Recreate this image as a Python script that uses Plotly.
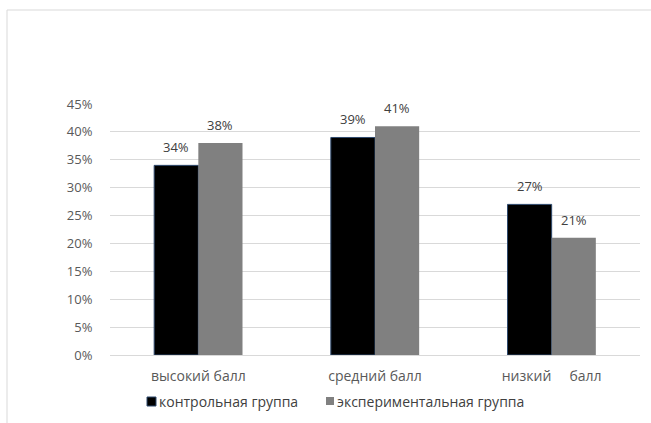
import plotly.graph_objects as go

# Survey results by score level
categories = ["высокий балл", "средний балл", "низкий     балл"]
control_group = [0.34, 0.39, 0.27]
experimental_group = [0.38, 0.41, 0.21]
series_names = ["контрольная группа", "экспериментальная группа"]
tick_values = [0, 0.05, 0.10, 0.15, 0.20, 0.25, 0.30, 0.35, 0.40, 0.45]

FONT = "Open Sans"
W, H = 651, 423
L, R, T, B = 110, 11, 104, 68
PW, PH = W - L - R, H - T - B
BAR_PX = 44  # width of one bar in pixels, used to centre value labels


def px_x(x):
    return (x - L) / PW


def px_y(y):
    return (H - B - y) / PH


fig = go.Figure()
fig.add_trace(go.Bar(
    x=categories, y=control_group, name=series_names[0],
    marker=dict(color="#000000", line=dict(color="#2f4a6e", width=1)),
))
fig.add_trace(go.Bar(
    x=categories, y=experimental_group, name=series_names[1],
    marker=dict(color="#808080", line=dict(width=0)),
))

annotations = []
# value labels above each bar
for values, shift in ((control_group, -BAR_PX / 2), (experimental_group, BAR_PX / 2)):
    for cat, v in zip(categories, values):
        annotations.append(dict(
            text=f"{v:.0%}", x=cat, y=v, xref="x", yref="y",
            xshift=shift, yshift=7, xanchor="center", yanchor="bottom",
            showarrow=False, font=dict(family=FONT, size=13, color="#404040"),
        ))

shapes = [
    # outer frame of the chart area (top and left edges)
    dict(type="line", xref="paper", yref="paper", x0=px_x(7), x1=px_x(651),
         y0=px_y(10), y1=px_y(10), line=dict(color="#d9d9d9", width=1)),
    dict(type="line", xref="paper", yref="paper", x0=px_x(7), x1=px_x(7),
         y0=px_y(10), y1=px_y(423), line=dict(color="#d9d9d9", width=1)),
    # legend swatches
    dict(type="rect", xref="paper", yref="paper", x0=px_x(147), x1=px_x(156),
         y0=px_y(397), y1=px_y(406), fillcolor="#000000",
         line=dict(color="#2f4a6e", width=1)),
    dict(type="rect", xref="paper", yref="paper", x0=px_x(326), x1=px_x(334),
         y0=px_y(397), y1=px_y(405), fillcolor="#808080", line=dict(width=0)),
]

annotations += [
    dict(text=series_names[0], xref="paper", yref="paper", x=px_x(157), y=px_y(401),
         xanchor="left", yanchor="middle", showarrow=False,
         font=dict(family=FONT, size=14, color="#404040")),
    dict(text=series_names[1], xref="paper", yref="paper", x=px_x(335), y=px_y(401),
         xanchor="left", yanchor="middle", showarrow=False,
         font=dict(family=FONT, size=14, color="#404040")),
]

fig.update_layout(
    width=W, height=H,
    margin=dict(l=L, r=R, t=T, b=B),
    paper_bgcolor="white", plot_bgcolor="white",
    barmode="group", bargap=0.5, bargroupgap=0,
    showlegend=False,
    shapes=shapes, annotations=annotations,
    font=dict(family=FONT, size=13, color="#595959"),
)
fig.update_xaxes(
    showgrid=False, showline=False, zeroline=False,
    ticks="outside", ticklen=8, tickcolor="rgba(0,0,0,0)",
    tickfont=dict(family=FONT, size=14, color="#595959"),
)
fig.update_yaxes(
    range=[0, 0.45], tickvals=tick_values, tickformat=".0%",
    showgrid=True, gridcolor="#d9d9d9", gridwidth=1,
    zeroline=True, zerolinecolor="#d9d9d9", zerolinewidth=1,
    showline=False, ticks="outside", ticklen=14, tickcolor="rgba(0,0,0,0)",
    tickfont=dict(family=FONT, size=13, color="#595959"),
)

fig.write_html("out.html")
